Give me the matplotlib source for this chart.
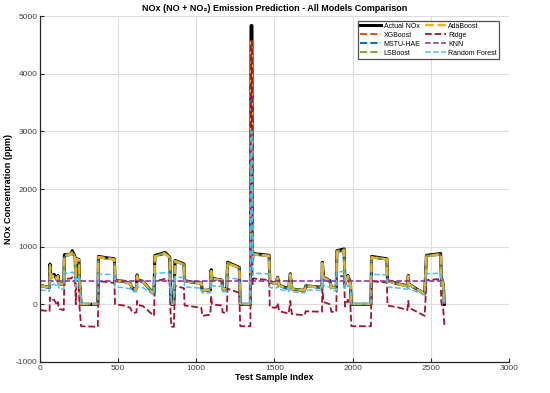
import numpy as np
import matplotlib
matplotlib.use("Agg")
import matplotlib.pyplot as plt

plt.rcParams['font.family'] = ['Liberation Sans', 'DejaVu Sans']
plt.rcParams['axes.unicode_minus'] = False

# sample index of each vertex
sample_idx = [0, 30, 61, 64, 70, 90, 111, 115, 121, 152,
              156, 200, 206, 225, 229, 233, 249, 253, 263, 370,
              374, 420, 476, 480, 536, 577, 587, 597, 617, 621,
              627, 658, 729, 735, 800, 830, 834, 840, 856, 864,
              921, 925, 982, 1032, 1038, 1090, 1095, 1100, 1164, 1168,
              1194, 1200, 1275, 1281, 1346, 1350, 1356, 1360, 1362, 1466,
              1470, 1510, 1520, 1530, 1591, 1601, 1611, 1692, 1700, 1804,
              1806, 1814, 1854, 1864, 1895, 1899, 1945, 1951, 1970, 1986,
              1992, 2117, 2121, 2219, 2223, 2300, 2350, 2356, 2360, 2461,
              2472, 2563, 2567, 2580, 2587]

actual = [330, 310, 290, 700, 470, 520, 420, 500, 360, 340,
          860, 870, 930, 820, 450, 790, 780, 400, 0, 0,
          830, 810, 790, 410, 400, 360, 300, 265, 270, 510,
          420, 400, 180, 845, 900, 820, 350, 0, 0, 760,
          700, 410, 380, 370, 240, 250, 600, 450, 420, 265,
          265, 730, 640, 0, 0, 4835, 4835, 790, 880, 850,
          380, 370, 470, 330, 270, 530, 265, 240, 320, 295,
          730, 470, 410, 295, 295, 930, 960, 350, 500, 350,
          0, 0, 830, 790, 410, 350, 320, 500, 350, 180,
          850, 880, 470, 350, 0]

xgboost = [325, 305, 285, 680, 460, 510, 415, 490, 355, 335,
           845, 860, 900, 810, 440, 780, 770, 395, 5, 5,
           815, 800, 780, 405, 395, 355, 295, 260, 265, 495,
           415, 395, 180, 830, 880, 810, 345, 5, 5, 750,
           690, 405, 375, 365, 240, 250, 580, 445, 415, 260,
           260, 715, 630, 5, 5, 4560, 4560, 780, 865, 840,
           375, 365, 460, 325, 265, 515, 260, 240, 315, 290,
           710, 460, 405, 290, 290, 910, 935, 345, 490, 345,
           5, 5, 815, 780, 405, 345, 315, 490, 345, 180,
           835, 865, 460, 345, 5]

mstu_hae = [320, 300, 280, 670, 455, 505, 410, 485, 350, 330,
            840, 855, 890, 805, 440, 775, 765, 390, 0, 0,
            810, 795, 775, 400, 390, 350, 290, 255, 260, 490,
            410, 390, 175, 825, 875, 805, 340, 0, 0, 745,
            685, 400, 370, 360, 235, 245, 575, 440, 410, 255,
            255, 710, 625, 0, 0, 4420, 4420, 775, 860, 835,
            370, 360, 455, 320, 260, 510, 255, 235, 310, 285,
            705, 455, 400, 285, 285, 905, 930, 340, 485, 340,
            0, 0, 810, 775, 400, 340, 310, 485, 340, 175,
            830, 860, 455, 340, 0]

lsboost = [335, 315, 295, 690, 470, 515, 425, 495, 365, 345,
           855, 880, 920, 815, 450, 785, 775, 400, 10, 10,
           825, 805, 785, 410, 400, 360, 300, 265, 270, 500,
           420, 400, 185, 840, 895, 815, 350, 10, 10, 755,
           695, 410, 380, 370, 245, 255, 590, 450, 420, 265,
           265, 725, 635, 10, 10, 4540, 4540, 785, 875, 845,
           380, 370, 465, 330, 270, 520, 265, 245, 320, 295,
           720, 465, 410, 295, 295, 925, 955, 350, 495, 350,
           10, 10, 825, 785, 410, 350, 320, 495, 350, 185,
           845, 875, 465, 350, 10]

adaboost = [320, 305, 290, 660, 465, 510, 415, 490, 360, 340,
            850, 860, 900, 810, 445, 780, 770, 395, 5, 5,
            820, 800, 780, 405, 395, 355, 295, 260, 265, 495,
            415, 395, 180, 830, 880, 810, 345, 5, 5, 750,
            690, 405, 375, 365, 240, 250, 580, 445, 415, 260,
            260, 715, 630, 5, 5, 4550, 4550, 780, 865, 840,
            375, 365, 460, 325, 265, 515, 260, 240, 315, 290,
            710, 460, 405, 290, 290, 910, 935, 345, 490, 345,
            5, 5, 815, 780, 405, 345, 315, 490, 345, 180,
            835, 865, 460, 345, 5]

ridge = [-100, -110, -120, 120, 60, 80, -20, 40, -80, -100,
         440, 450, 470, 380, 0, 350, 340, -50, -380, -390,
         400, 390, 370, 0, -20, -60, -120, -150, -140, 60,
         -10, -30, -200, 400, 440, 400, -60, -390, -390, 320,
         280, -20, -40, -60, -200, -180, 150, 0, -20, -140,
         -150, 270, 200, -380, -380, 4575, 4575, 350, 450, 420,
         -50, -60, 20, -120, -160, 60, -170, -190, -120, -130,
         280, 40, 0, -130, -130, 480, 490, -40, 80, -40,
         -380, -380, 400, 380, -20, -60, -100, 60, -60, -200,
         420, 440, 40, -100, -380]

random_forest = [250, 240, 230, 400, 330, 350, 320, 360, 270, 260,
                 540, 550, 560, 520, 300, 500, 490, 280, 10, 10,
                 520, 520, 510, 300, 290, 270, 240, 220, 220, 330,
                 300, 290, 160, 530, 550, 520, 260, 10, 10, 480,
                 460, 300, 290, 280, 200, 200, 380, 320, 310, 220,
                 220, 470, 430, 10, 10, 3000, 3000, 500, 540, 530,
                 290, 280, 320, 260, 220, 340, 220, 200, 250, 240,
                 470, 320, 300, 240, 240, 560, 570, 270, 330, 270,
                 10, 10, 520, 510, 300, 280, 260, 330, 270, 160,
                 530, 540, 320, 280, 10]

knn_idx = [0, 2590]
knn = [400, 400]

fig = plt.figure(figsize=(5.5, 3.93), dpi=100)
ax = fig.add_axes([0.0727, 0.079, 0.8527, 0.880])

ax.plot(sample_idx, actual, color='black', lw=2.2, label='Actual NOx')
ax.plot(sample_idx, xgboost, color='#D95319', lw=1.4, ls='--', label='XGBoost')
ax.plot(sample_idx, mstu_hae, color='#0072BD', lw=1.4, ls='--', label='MSTU-HAE')
ax.plot(sample_idx, lsboost, color='#77AC30', lw=1.4, ls='--', label='LSBoost')
ax.plot(sample_idx, adaboost, color='#EDB120', lw=1.7, ls='--', label='AdaBoost')
ax.plot(sample_idx, ridge, color='#A2142F', lw=1.3, ls='--', label='Ridge')
ax.plot(knn_idx, knn, color='#7E2F8E', lw=1.1, ls='--', label='KNN')
ax.plot(sample_idx, random_forest, color='#4DBEEE', lw=1.1, ls='--', label='Random Forest')

ax.set_xlim(0, 3000)
ax.set_ylim(-1000, 5000)
ax.set_xticks(np.arange(0, 3001, 500))
ax.set_yticks(np.arange(-1000, 5001, 1000))
ax.grid(True, color='#dcdcdc', lw=0.8)
ax.set_axisbelow(True)
for s in ['top', 'right']:
    ax.spines[s].set_visible(False)
for s in ['left', 'bottom']:
    ax.spines[s].set_color('#262626')
    ax.spines[s].set_linewidth(0.9)
ax.tick_params(direction='in', length=3, labelsize=6, colors='#262626',
               labelcolor='#404040', pad=2)

ax.set_title('NOx (NO + NO\u2082) Emission Prediction - All Models Comparison',
             fontsize=6.5, fontweight='bold', pad=4)
ax.set_xlabel('Test Sample Index', fontsize=6.5, fontweight='bold', labelpad=1)
ax.set_ylabel('NOx Concentration (ppm)', fontsize=6.5, fontweight='bold')
ax.yaxis.set_label_coords(-0.058, 0.5)

leg = ax.legend(ncol=2, loc='upper right', bbox_to_anchor=(0.979, 0.987),
                fontsize=5, frameon=True, fancybox=False, handlelength=3.0,
                columnspacing=0.6, labelspacing=0.28, borderpad=0.3,
                handletextpad=0.4, borderaxespad=0)
leg.get_frame().set_edgecolor('#262626')
leg.get_frame().set_linewidth(0.9)

fig.savefig('out.png', dpi=100)
